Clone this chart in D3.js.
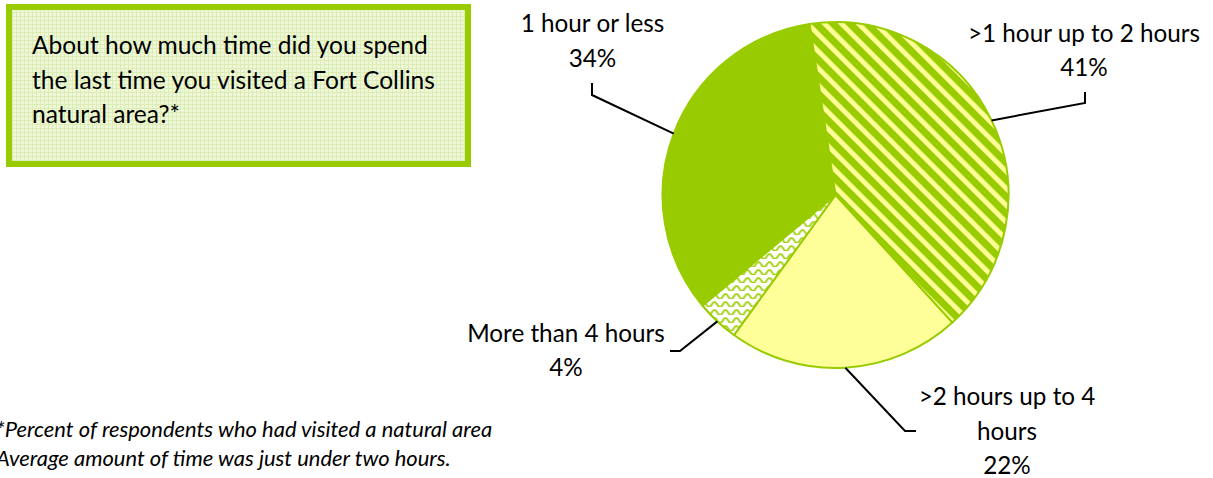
<!DOCTYPE html>
<html><head><meta charset="utf-8">
<script src="https://cdn.jsdelivr.net/npm/d3@7"></script>
<style>html,body{margin:0;padding:0;background:#fff;overflow:hidden}</style>
</head><body><svg id="c" width="1213" height="478"></svg>
<script>
// ---- data ----
const categories = ["1 hour or less", ">1 hour up to 2 hours", ">2 hours up to 4 hours", "More than 4 hours"];
const values = [34, 41, 22, 4];
const labelLines = [["1 hour or less"], [">1 hour up to 2 hours"], [">2 hours up to 4", "hours"], ["More than 4 hours"]];
const questionLines = ["About how much time did you spend", "the last time you visited a Fort Collins", "natural area?*"];
const footnoteLines = ["*Percent of respondents who had visited a natural area", "Average amount of time was just under two hours."];

// ---- layout / style ----
const FONT = "Lato, 'Open Sans', sans-serif";
const cx = 835.5, cy = 195, R = 173;
const startDeg = -129.8;
const fills = ["#99CC00", "url(#hatch)", "#FFFF99", "url(#wave)"];
const labelPos = [[592.5, 32], [1084, 41.7], [1007, 405], [566, 341.7]];
const leaderPts = [[[592, 95], [592, 83]], [[1085, 103], [1085, 92]], [[905, 431], [916, 431]], [[680, 351], [670, 351]]];
const lineH = 34.5;

const svg = d3.select("#c");
const defs = svg.append("defs");

// hatch: wide downward diagonal
const hp = defs.append("pattern").attr("id", "hatch").attr("patternUnits", "userSpaceOnUse")
  .attr("width", 12).attr("height", 12).attr("patternTransform", "rotate(-45)");
hp.append("rect").attr("width", 12).attr("height", 12).attr("fill", "#99CC00");
hp.append("rect").attr("x", 3).attr("width", 4.8).attr("height", 12).attr("fill", "#FFFF99");

// wave pattern
const wp = defs.append("pattern").attr("id", "wave").attr("patternUnits", "userSpaceOnUse")
  .attr("width", 11).attr("height", 8);
wp.append("rect").attr("width", 11).attr("height", 8).attr("fill", "#ffffff");
wp.append("path").attr("d", "M-2.75,5.5 Q0,0.5 2.75,5.5 T8.25,5.5 T13.75,5.5").attr("fill", "none")
  .attr("stroke", "#A6D21A").attr("stroke-width", 2);

// small grid for text box
const gp = defs.append("pattern").attr("id", "grid").attr("patternUnits", "userSpaceOnUse")
  .attr("width", 4).attr("height", 4);
gp.append("rect").attr("width", 4).attr("height", 4).attr("fill", "#EEF7DA");
gp.append("path").attr("d", "M0,0.5H4M0.5,0V4").attr("stroke", "#DCEDB4").attr("stroke-width", 1);

// ---- pie ----
const a0 = startDeg * Math.PI / 180;
const pie = d3.pie().sort(null).value(d => d).startAngle(a0).endAngle(a0 + 2 * Math.PI);
const arcs = pie(values);
const arc = d3.arc().innerRadius(0).outerRadius(R);
const edge = d3.arc().innerRadius(R).outerRadius(R);
const g = svg.append("g").attr("transform", `translate(${cx},${cy})`);
g.selectAll("path.slice").data(arcs).join("path").attr("class", "slice")
  .attr("d", arc).attr("fill", (d, i) => fills[i])
  .attr("stroke", "#99CC00").attr("stroke-width", 2).attr("stroke-linejoin", "round");

// ---- leader lines ----
svg.selectAll("path.leader").data(arcs).join("path").attr("class", "leader")
  .attr("d", (d, i) => {
    const c = edge.centroid(d);
    const p = [[cx + c[0], cy + c[1]], ...leaderPts[i]];
    return d3.line()(p);
  })
  .attr("fill", "none").attr("stroke", "#000").attr("stroke-width", 2);

// ---- font fitting helper ----
function fitSize(text, target, italic) {
  const t = svg.append("text").attr("font-family", FONT).attr("font-size", 100)
    .attr("font-style", italic ? "italic" : "normal").text(text);
  const w = t.node().getComputedTextLength();
  t.remove();
  return 100 * target / w;
}
const labelFS = fitSize(labelLines[0][0], 143.6, false);
const boxFS = fitSize(questionLines[0], 396, false);
const footFS = fitSize(footnoteLines[1], 455, true);

// ---- labels ----
const pct = d3.format(".0f");
labelLines.forEach((lines, i) => {
  const t = svg.append("text").attr("font-family", FONT).attr("font-size", labelFS)
    .attr("fill", "#000").attr("text-anchor", "middle");
  const all = [...lines, pct(values[i]) + "%"];
  all.forEach((s, k) => {
    t.append("tspan").attr("x", labelPos[i][0]).attr("y", labelPos[i][1] + k * lineH).text(s);
  });
});

// ---- question box ----
svg.append("rect").attr("x", 9).attr("y", 7).attr("width", 459).attr("height", 157)
  .attr("fill", "url(#grid)").attr("stroke", "#99CC00").attr("stroke-width", 6);
const qt = svg.append("text").attr("font-family", FONT).attr("font-size", boxFS).attr("fill", "#000");
questionLines.forEach((s, k) => qt.append("tspan").attr("x", 32).attr("y", 54 + k * 34.7).text(s));

// ---- footnote (cut at the left edge, as in the reference) ----
const ft = svg.append("text").attr("font-family", FONT).attr("font-size", footFS)
  .attr("font-style", "italic").attr("fill", "#000");
footnoteLines.forEach((s, k) => ft.append("tspan").attr("x", -4).attr("y", 437 + k * 28.5).text(s));
</script>
</body></html>
